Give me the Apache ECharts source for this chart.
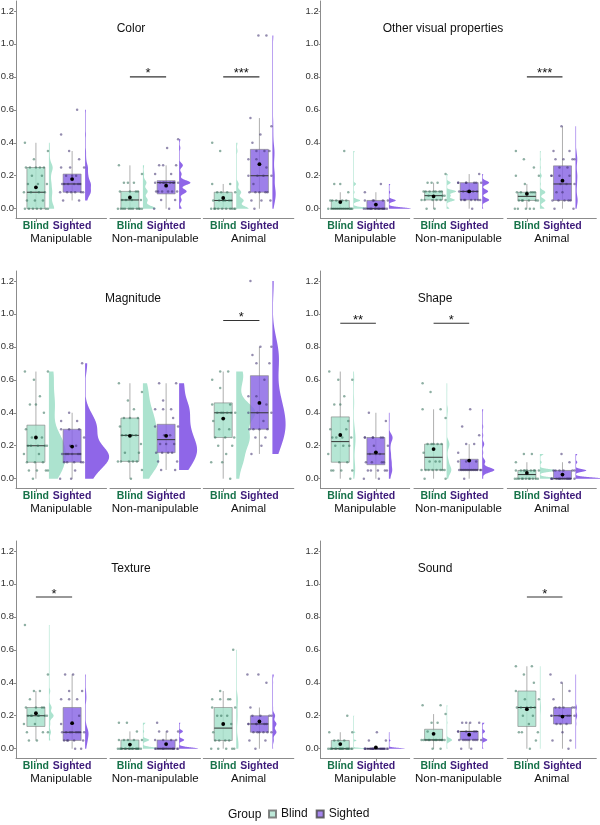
<!DOCTYPE html>
<html>
<head>
<meta charset="utf-8">
<script src="https://cdn.jsdelivr.net/npm/echarts@6/dist/echarts.min.js"></script>
<style>
  html, body { margin: 0; padding: 0; background: #fff; }
  #chart { width: 600px; height: 825px; }
</style>
</head>
<body>
<div id="chart"></div>
<script>
// facets / groups / ticks
const facets = ['Manipulable', 'Non-manipulable', 'Animal']
const groups = ['Blind', 'Sighted']
const panelTitles = ['Color', 'Other visual properties', 'Magnitude', 'Shape', 'Texture', 'Sound']
const yTicks = [0, 0.2, 0.4, 0.6, 0.8, 1.0, 1.2]

// individual points: [facet][group] -> values
const colorPoints = [
  [[0,0,0,0,0,0,0,0.05,0.05,0.05,0.1,0.1,0.1,0.1,0.15,0.15,0.15,0.2,0.2,0.25,0.25,0.25,0.25,0.25,0.3,0.35,0.4],
   [0.05,0.05,0.1,0.1,0.1,0.1,0.1,0.1,0.15,0.15,0.15,0.15,0.15,0.15,0.2,0.2,0.2,0.25,0.25,0.25,0.3,0.35,0.45,0.6]],
  [[0,0,0,0,0,0,0,0,0,0,0,0.053,0.053,0.053,0.053,0.105,0.105,0.105,0.105,0.158,0.158,0.158,0.21,0.263],
   [0,0,0.053,0.053,0.105,0.105,0.105,0.105,0.105,0.105,0.158,0.158,0.158,0.158,0.158,0.158,0.158,0.158,0.158,0.21,0.21,0.263,0.263,0.263,0.368,0.421]],
  [[0,0,0,0,0,0,0,0,0,0,0.05,0.05,0.05,0.05,0.05,0.05,0.1,0.1,0.1,0.1,0.15,0.15,0.35,0.4],
   [0,0.05,0.05,0.05,0.1,0.1,0.1,0.1,0.1,0.15,0.2,0.2,0.2,0.2,0.25,0.3,0.3,0.35,0.35,0.35,0.4,0.45,0.5,0.55,1.05,1.05]]
]
const otherPoints = [
  [[0,0,0,0,0,0,0,0,0,0,0,0,0,0,0.05,0.05,0.05,0.05,0.05,0.1,0.15,0.15,0.35],
   [0,0,0,0,0,0,0,0,0,0,0,0,0,0,0,0,0.05,0.05,0.05,0.05,0.05,0.1,0.15]],
  [[0,0,0.053,0.053,0.053,0.053,0.053,0.053,0.079,0.079,0.079,0.105,0.105,0.105,0.105,0.105,0.105,0.105,0.158,0.158,0.158,0.21],
   [0,0.053,0.053,0.053,0.053,0.053,0.053,0.053,0.105,0.105,0.105,0.105,0.105,0.105,0.158,0.158,0.158,0.158,0.158,0.158,0.158,0.21]],
  [[0,0,0,0,0,0.05,0.05,0.05,0.05,0.05,0.05,0.1,0.1,0.1,0.1,0.1,0.1,0.15,0.2,0.2,0.25,0.3,0.35],
   [0,0,0.05,0.05,0.05,0.05,0.05,0.1,0.1,0.15,0.15,0.15,0.2,0.2,0.2,0.2,0.25,0.25,0.3,0.3,0.3,0.3,0.35,0.35,0.5]]
]
const magnitudePoints = [
  [[0,0.05,0.05,0.05,0.05,0.1,0.1,0.1,0.15,0.15,0.2,0.2,0.2,0.2,0.2,0.25,0.25,0.3,0.4,0.45,0.45,0.5,0.6,0.65,0.65],
   [0,0,0.05,0.1,0.1,0.1,0.1,0.1,0.15,0.15,0.15,0.15,0.15,0.15,0.2,0.2,0.25,0.3,0.3,0.3,0.35,0.35,0.4,0.7]],
  [[0,0.053,0.105,0.105,0.105,0.105,0.105,0.158,0.158,0.21,0.263,0.263,0.263,0.263,0.316,0.368,0.368,0.368,0.421,0.474,0.526,0.579],
   [0.053,0.053,0.105,0.105,0.158,0.158,0.158,0.158,0.21,0.21,0.21,0.263,0.263,0.316,0.316,0.368,0.421,0.421,0.421,0.474,0.579,0.579]],
  [[0,0.1,0.1,0.15,0.2,0.2,0.25,0.25,0.25,0.3,0.3,0.35,0.4,0.4,0.4,0.4,0.4,0.4,0.45,0.45,0.55,0.6,0.65,0.65],
   [0.15,0.2,0.25,0.25,0.3,0.3,0.3,0.3,0.35,0.4,0.4,0.4,0.45,0.5,0.5,0.6,0.7,0.7,0.75,0.8,0.8,1.2]]
]
const shapePoints = [
  [[0,0.05,0.05,0.05,0.05,0.1,0.1,0.15,0.2,0.2,0.2,0.25,0.25,0.25,0.25,0.3,0.3,0.35,0.45,0.45,0.5,0.6,0.6,0.65],
   [0,0,0.05,0.05,0.05,0.05,0.05,0.1,0.1,0.1,0.1,0.15,0.15,0.15,0.2,0.2,0.25,0.25,0.25,0.25,0.25,0.25,0.35,0.4]],
  [[0,0,0.053,0.053,0.053,0.053,0.053,0.053,0.053,0.053,0.105,0.105,0.105,0.158,0.21,0.21,0.21,0.21,0.21,0.368,0.421,0.421,0.526,0.579],
   [0,0.053,0.053,0.053,0.053,0.053,0.053,0.053,0.053,0.053,0.053,0.053,0.053,0.105,0.105,0.105,0.158,0.21,0.21,0.263,0.316,0.421]],
  [[0,0,0,0,0,0,0,0,0,0,0,0.05,0.05,0.05,0.05,0.05,0.05,0.05,0.05,0.05,0.1,0.15,0.15],
   [0,0,0,0,0,0,0,0,0,0,0,0,0,0,0,0.05,0.05,0.05,0.05,0.05,0.05,0.1,0.15]]
]
const texturePoints = [
  [[0.05,0.05,0.1,0.1,0.1,0.15,0.15,0.2,0.2,0.2,0.2,0.2,0.2,0.2,0.25,0.25,0.25,0.25,0.3,0.35,0.35,0.45,0.75],
   [0,0,0.05,0.05,0.05,0.05,0.05,0.1,0.1,0.1,0.1,0.1,0.1,0.1,0.1,0.15,0.2,0.3,0.3,0.3,0.35,0.35,0.45,0.45]],
  [[0,0,0,0,0,0,0,0,0,0,0,0,0,0,0,0.053,0.053,0.053,0.053,0.053,0.105,0.158,0.158],
   [0,0,0,0,0,0,0,0,0,0,0,0,0,0,0,0.053,0.053,0.053,0.053,0.105,0.105,0.105,0.158]],
  [[0,0,0,0,0,0.05,0.05,0.05,0.05,0.1,0.15,0.15,0.2,0.2,0.2,0.25,0.25,0.3,0.3,0.3,0.3,0.35,0.6],
   [0,0.05,0.05,0.1,0.1,0.1,0.1,0.1,0.1,0.15,0.15,0.15,0.15,0.15,0.15,0.2,0.2,0.2,0.2,0.25,0.4,0.45,0.45]]
]
const soundPoints = [
  [[0,0,0,0,0,0,0,0,0,0,0,0,0,0,0,0,0,0.05,0.05,0.05,0.1,0.1,0.2],
   [0,0,0,0,0,0,0,0,0,0,0,0,0,0,0,0,0,0,0,0,0.05,0.05,0.1]],
  [[0,0,0.053,0.053,0.053,0.053,0.053,0.053,0.053,0.053,0.053,0.053,0.053,0.053,0.105,0.158,0.158,0.21,0.263,0.263],
   [0,0,0.053,0.053,0.053,0.053,0.053,0.053,0.053,0.053,0.053,0.105,0.105,0.105,0.105,0.105,0.158,0.158,0.158,0.158]],
  [[0,0.05,0.1,0.1,0.1,0.15,0.2,0.2,0.25,0.25,0.25,0.25,0.25,0.3,0.3,0.35,0.4,0.45,0.5,0.5],
   [0,0.05,0.05,0.1,0.15,0.15,0.15,0.2,0.2,0.2,0.2,0.2,0.2,0.25,0.25,0.25,0.25,0.25,0.3,0.35,0.4,0.45]]
]

// box stats: [lower whisker, q1, median, q3, upper whisker]
const colorBox = [[[0,0,0.1,0.25,0.4],[0.05,0.1,0.15,0.21,0.35]], [[0,0,0.053,0.105,0.263],[0,0.09,0.158,0.17,0.263]], [[0,0,0.05,0.1,0.15],[0,0.1,0.2,0.36,0.55]]]
const otherBox = [[[0,0,0,0.05,0.1],[0,0,0,0.05,0.1]], [[0,0.053,0.079,0.105,0.158],[0,0.053,0.105,0.158,0.21]], [[0,0.05,0.075,0.1,0.15],[0,0.05,0.15,0.26,0.5]]]
const magnitudeBox = [[[0,0.1,0.2,0.325,0.65],[0,0.1,0.15,0.3,0.4]], [[0,0.105,0.263,0.368,0.579],[0.053,0.158,0.237,0.33,0.579]], [[0,0.25,0.4,0.46,0.65],[0.15,0.3,0.4,0.625,0.8]]]
const shapeBox = [[[0,0.1,0.225,0.375,0.65],[0,0.085,0.15,0.25,0.4]], [[0,0.053,0.13,0.21,0.421],[0,0.053,0.053,0.118,0.21]], [[0,0,0.025,0.05,0.1],[0,0,0,0.05,0.1]]]
const textureBox = [[[0.05,0.135,0.2,0.25,0.35],[0,0.05,0.1,0.25,0.45]], [[0,0,0,0.053,0.105],[0,0,0,0.053,0.105]], [[0,0.05,0.125,0.25,0.35],[0,0.1,0.15,0.2,0.25]]]
const soundBox = [[[0,0,0,0.05,0.1],[0,0,0,0,0]], [[0,0.053,0.053,0.118,0.21],[0,0.053,0.105,0.105,0.158]], [[0,0.135,0.25,0.35,0.5],[0,0.15,0.2,0.25,0.4]]]

// group means (black dot)
const colorMean = [[0.13,0.18],[0.068,0.14],[0.065,0.27]]
const otherMean = [[0.04,0.025],[0.075,0.105],[0.09,0.17]]
const magnitudeMean = [[0.25,0.195],[0.26,0.26],[0.365,0.46]]
const shapeMean = [[0.265,0.16],[0.18,0.11],[0.035,0.025]]
const textureMean = [[0.215,0.155],[0.025,0.028],[0.15,0.165]]
const soundMean = [[0.028,0.008],[0.09,0.085],[0.24,0.195]]

// significance bars: [facet, y, label]
const colorSig = [[1, 0.8, '*'], [2, 0.8, '***']]
const otherSig = [[2, 0.8, '***']]
const magnitudeSig = [[2, 0.96, '*']]
const shapeSig = [[0, 0.943, '**'], [1, 0.943, '*']]
const textureSig = [[0, 0.92, '*']]
const soundSig = [[2, 0.92, '*']]

const panelPoints = [colorPoints, otherPoints, magnitudePoints, shapePoints, texturePoints, soundPoints]
const panelBoxes = [colorBox, otherBox, magnitudeBox, shapeBox, textureBox, soundBox]
const panelMeans = [colorMean, otherMean, magnitudeMean, shapeMean, textureMean, soundMean]
const panelSigs = [colorSig, otherSig, magnitudeSig, shapeSig, textureSig, soundSig]

// layout / style
const rowTop = [1, 271, 541]
const plotH = 217.6
const facetLeft = [[16, 110, 203.3], [320.7, 414, 507.3]]
const facetW = [90.5, 89]
const titlePos = [[131, 29], [443, 29], [133, 299], [435, 299], [131, 569], [435, 569]]
const violinMaxPx = [13, 22, 24, 27, 19, 18]
const bwAdjust = [0.45, 0.45, 0.8, 0.45, 0.45, 0.45]
const boxFill = ['rgba(165,224,203,0.82)', 'rgba(135,100,228,0.82)']
const violinFill = ['#ace3cf', '#8f66e8']
const dotColor = ['rgba(50,110,88,0.55)', 'rgba(60,45,110,0.55)']
const labelColor = ['#17734a', '#3d1a7a']
const jitterPx = [-11, 5, -3, 10, -7, 1, 12, -9, 7, -1, -12, 3, 9, -5, 11, -8, 2, -4, 6, -10, 8, 0, -6, 4, -2, 12, -11, 7, -3]
const font = 'Liberation Sans, Arial, sans-serif'

function quantile(s, p) {
  const h = (s.length - 1) * p
  const lo = Math.floor(h)
  const hi = Math.min(lo + 1, s.length - 1)
  return s[lo] + (h - lo) * (s[hi] - s[lo])
}

// gaussian kde with bw.nrd0 * adjust, trimmed to data range
function kde(vals, adjust) {
  const s = vals.slice().sort((a, b) => a - b)
  const n = s.length
  const mean = s.reduce((a, b) => a + b, 0) / n
  const sd = Math.sqrt(s.reduce((a, b) => a + (b - mean) * (b - mean), 0) / (n - 1))
  let lo = Math.min(sd, (quantile(s, 0.75) - quantile(s, 0.25)) / 1.34)
  if (!lo) lo = sd || Math.abs(s[0]) || 1
  const bw = 0.9 * lo * Math.pow(n, -0.2) * adjust
  const ys = [], ds = []
  const m = 200
  for (let i = 0; i <= m; i++) {
    const y = s[0] + (s[n - 1] - s[0]) * i / m
    let d = 0
    for (const v of s) {
      const z = (y - v) / bw
      d += Math.exp(-0.5 * z * z)
    }
    ys.push(y)
    ds.push(d / (n * bw * Math.sqrt(2 * Math.PI)))
  }
  return { ys, ds }
}

const densities = panelPoints.map((pp, p) => pp.map((fg) => fg.map((g) => kde(g, bwAdjust[p]))))
const violinScale = densities.map((pd, p) => {
  let mx = 0
  pd.forEach((fd) => fd.forEach((d) => d.ds.forEach((v) => { mx = Math.max(mx, v) })))
  return violinMaxPx[p] / mx
})

function makeRender(p, f) {
  return function (params, api) {
    const k = params.dataIndex
    const pos = api.value(0)
    const pts = panelPoints[p][f][k]
    const box = panelBoxes[p][f][k]
    const mean = panelMeans[p][f][k]
    const dens = densities[p][f][k]
    const cx = api.coord([pos, 0])[0]
    const yPx = (v) => api.coord([pos, v])[1]
    const children = []

    // half violin to the right
    const base = cx + 13
    const sc = violinScale[p]
    const poly = dens.ys.map((y, i) => [base + Math.max(dens.ds[i] * sc, 0.6), yPx(y)])
    poly.push([base, yPx(dens.ys[dens.ys.length - 1])], [base, yPx(dens.ys[0])])
    children.push({ type: 'polygon', shape: { points: poly }, style: { fill: violinFill[k], stroke: null } })

    // whisker
    children.push({ type: 'line', shape: { x1: cx, y1: yPx(box[0]), x2: cx, y2: yPx(box[4]) },
      style: { stroke: '#9a9a9a', lineWidth: 0.8 } })
    // box
    const yq3 = yPx(box[3]), yq1 = yPx(box[1])
    children.push({ type: 'rect', shape: { x: cx - 9, y: yq3, width: 18, height: Math.max(yq1 - yq3, 0.1) },
      style: { fill: boxFill[k], stroke: '#808080', lineWidth: 0.6 } })
    // median
    children.push({ type: 'line', shape: { x1: cx - 9, y1: yPx(box[2]), x2: cx + 9, y2: yPx(box[2]) },
      style: { stroke: '#333', lineWidth: 1 } })
    // jittered points
    pts.forEach((v, i) => {
      const jx = jitterPx[(i + 7 * k + 3 * f + p) % jitterPx.length]
      children.push({ type: 'circle', shape: { cx: cx + jx, cy: yPx(v), r: 1.25 },
        style: { fill: dotColor[k] } })
    })
    // mean
    children.push({ type: 'circle', shape: { cx: cx, cy: yPx(mean), r: 1.9 }, style: { fill: '#000' } })

    // significance bar
    if (k === 0) {
      panelSigs[p].filter((s) => s[0] === f).forEach((s) => {
        const a = api.coord([1, s[1]]), b = api.coord([2, s[1]])
        children.push({ type: 'line', shape: { x1: a[0], y1: a[1], x2: b[0], y2: b[1] },
          style: { stroke: '#333', lineWidth: 1.1 } })
        children.push({ type: 'text', x: (a[0] + b[0]) / 2, y: a[1] - 3,
          style: { text: s[2], fill: '#111', fontSize: 13, fontFamily: font,
            align: 'center', verticalAlign: 'middle' } })
      })
    }
    return { type: 'group', children }
  }
}

const grid = [], xAxis = [], yAxis = [], series = []
for (let p = 0; p < 6; p++) {
  const row = Math.floor(p / 2), col = p % 2
  for (let f = 0; f < 3; f++) {
    const g = grid.length
    grid.push({ left: facetLeft[col][f], top: rowTop[row], width: facetW[col], height: plotH, outerBoundsMode: 'none' })
    xAxis.push({
      type: 'value', gridIndex: g, min: 0.45, max: 2.95,
      splitLine: { show: false },
      axisLine: { show: true, onZero: false, lineStyle: { color: '#8c8c8c', width: 1 } },
      axisTick: { show: true, customValues: [1, 2], length: 3, lineStyle: { color: '#8c8c8c' } },
      axisLabel: {
        customValues: [1, 2], margin: 2,
        formatter: (v) => (v === 1 ? '{b|' + groups[0] + '}' : '{s|' + groups[1] + '}'),
        rich: {
          b: { color: labelColor[0], fontWeight: 'bold', fontSize: 10.5, fontFamily: font },
          s: { color: labelColor[1], fontWeight: 'bold', fontSize: 10.5, fontFamily: font }
        }
      },
      name: facets[f], nameLocation: 'middle', nameGap: 14,
      nameTextStyle: { fontSize: 11.5, color: '#111', fontFamily: font }
    })
    yAxis.push({
      type: 'value', gridIndex: g, min: -0.06, max: 1.26,
      show: f === 0,
      splitLine: { show: false },
      axisLine: { show: true, lineStyle: { color: '#8c8c8c', width: 1 } },
      axisTick: { show: true, customValues: yTicks, length: 2, lineStyle: { color: '#8c8c8c' } },
      axisLabel: { customValues: yTicks, margin: 2, formatter: (v) => v.toFixed(1),
        fontSize: 9.5, color: '#333', fontFamily: font }
    })
    series.push({
      type: 'custom', xAxisIndex: g, yAxisIndex: g, silent: true, clip: false,
      data: [[1, 0], [2, 0]],
      renderItem: makeRender(p, f)
    })
  }
}

// legend proxies
series.push({ type: 'scatter', name: groups[0], xAxisIndex: 0, yAxisIndex: 0, data: [],
  itemStyle: { color: '#ace3cf', borderColor: '#666', borderWidth: 0.8 } })
series.push({ type: 'scatter', name: groups[1], xAxisIndex: 0, yAxisIndex: 0, data: [],
  itemStyle: { color: '#8f66e8', borderColor: '#444', borderWidth: 0.8 } })

const titles = panelTitles.map((t, i) => ({
  text: t, left: titlePos[i][0], top: titlePos[i][1], textAlign: 'center', textVerticalAlign: 'middle', padding: 0,
  textStyle: { fontSize: 12, fontWeight: 'normal', color: '#111', fontFamily: font }
}))
titles.push({ text: 'Group', left: 228, top: 815, textAlign: 'left', textVerticalAlign: 'middle', padding: 0,
  textStyle: { fontSize: 12, fontWeight: 'normal', color: '#111', fontFamily: font } })

const chart = echarts.init(document.getElementById('chart'), null, { renderer: 'canvas' })
chart.setOption({
  animation: false,
  backgroundColor: '#fff',
  title: titles,
  legend: {
    data: groups, left: 268, top: 808, padding: 0, icon: 'rect', itemWidth: 7, itemHeight: 7, itemGap: 8,
    selectedMode: false,
    textStyle: { fontSize: 12, color: '#111', fontFamily: font }
  },
  grid, xAxis, yAxis, series
})
</script>
</body>
</html>
